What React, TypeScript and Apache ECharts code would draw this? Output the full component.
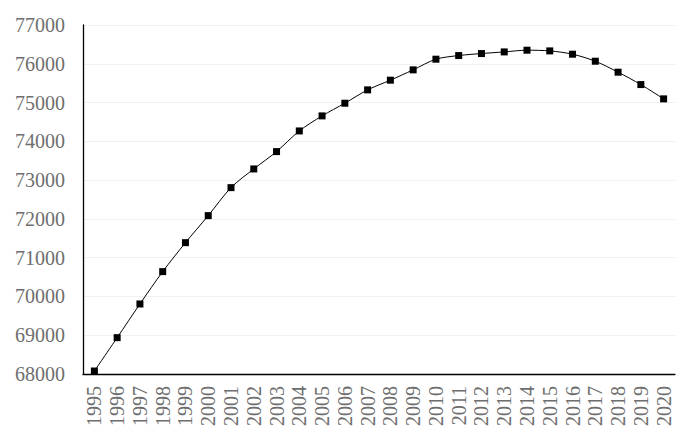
import React, { useEffect, useRef } from "react";
import * as echarts from "echarts";

const years = [
  "1995", "1996", "1997", "1998", "1999", "2000", "2001", "2002", "2003", "2004",
  "2005", "2006", "2007", "2008", "2009", "2010", "2011", "2012", "2013", "2014",
  "2015", "2016", "2017", "2018", "2019", "2020",
];
const values = [
  68077, 68937, 69806, 70640, 71387, 72084, 72806, 73288, 73735, 74268,
  74656, 74983, 75327, 75577, 75843, 76118, 76212, 76264, 76306, 76350,
  76332, 76247, 76066, 75783, 75464, 75095,
];
const yMin = 68000;
const yMax = 77000;
const yStep = 1000;

export default function App() {
  const ref = useRef<HTMLDivElement>(null);
  useEffect(() => {
    if (!ref.current) return;
    const chart = echarts.init(ref.current, null, { renderer: "svg" });
    const font = "'Liberation Serif', 'Times New Roman', serif";
    chart.setOption({
      animation: false,
      backgroundColor: "#ffffff",
      graphic: [
        {
          type: "rect",
          shape: { x: 1.5, y: 1.5, width: 696, height: 439 },
          style: { fill: "none", stroke: "#e6e6e6", lineWidth: 1 },
          silent: true,
        },
      ],
      grid: { left: 83, right: 25, top: 25, bottom: 69, containLabel: false },
      xAxis: {
        type: "category",
        data: years,
        boundaryGap: true,
        axisLine: { show: true, lineStyle: { color: "#000000", width: 1.3 } },
        axisTick: { show: false },
        axisLabel: {
          rotate: 90,
          interval: 0,
          margin: 12,
          color: "#6e6e6e",
          fontFamily: font,
          fontSize: 20,
        },
        splitLine: { show: false },
      },
      yAxis: {
        type: "value",
        min: yMin,
        max: yMax,
        interval: yStep,
        axisLine: { show: true, lineStyle: { color: "#000000", width: 1.3 } },
        axisTick: { show: false },
        axisLabel: {
          margin: 18,
          color: "#6e6e6e",
          fontFamily: font,
          fontSize: 20,
          formatter: (v: number) => String(v),
        },
        splitLine: { show: true, lineStyle: { color: "#f0f0f0", width: 1 } },
      },
      series: [
        {
          type: "line",
          data: values,
          smooth: 0.3,
          symbol: "rect",
          symbolSize: 7,
          itemStyle: { color: "#000000" },
          lineStyle: { color: "#000000", width: 1 },
        },
      ],
    });
    return () => chart.dispose();
  }, []);
  return <div ref={ref} style={{ width: 700, height: 443, margin: -8 }} />;
}
